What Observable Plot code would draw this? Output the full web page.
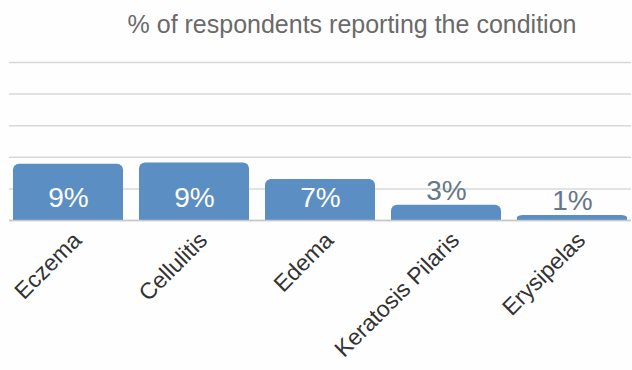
<!DOCTYPE html>
<html>
<head>
<meta charset="utf-8">
<script src="https://cdn.jsdelivr.net/npm/d3@7"></script>
<script src="https://cdn.jsdelivr.net/npm/@observablehq/plot@0.6"></script>
<style>
  html, body { margin: 0; padding: 0; background: #fefefe; }
  body { width: 632px; height: 370px; overflow: hidden; font-family: "Liberation Sans", Arial, sans-serif; }
  #title { height: 50px; box-sizing: border-box; padding-top: 11px; padding-left: 72px; text-align: center; font-size: 25px; color: #6a6a6a; line-height: 26px; }
</style>
</head>
<body>
<div id="title">% of respondents reporting the condition</div>
<div id="chart"></div>
<script>
const categories = ["Eczema", "Cellulitis", "Edema", "Keratosis Pilaris", "Erysipelas"];
const values = [8.9, 9.1, 6.5, 2.4, 0.8];
const labels = ["9%", "9%", "7%", "3%", "1%"];
const yTicks = [0, 5, 10, 15, 20, 25];

const data = categories.map((c, i) => ({category: c, value: values[i], label: labels[i]}));
const inside = data.filter(d => d.value >= 5);
const outside = data.filter(d => d.value < 5);

const barColor = "#5b8ec2";

const chart = Plot.plot({
  width: 632,
  height: 320,
  marginTop: 12,
  marginBottom: 150,
  marginLeft: 9,
  marginRight: 1,
  style: {background: "transparent", fontFamily: "'Liberation Sans', Arial, sans-serif"},
  x: {domain: categories, paddingInner: 0.125, paddingOuter: 0.03, label: null},
  y: {domain: [0, 25], label: null},
  marks: [
    Plot.gridY(yTicks, {stroke: "#d8d8d8", strokeOpacity: 1, strokeWidth: 1.5}),
    Plot.barY(data, {x: "category", y: "value", fill: barColor, rx: 6}),
    Plot.barY(data, {x: "category", y1: 0, y2: d => d.value / 2, fill: barColor}),
    Plot.ruleY([0], {stroke: "#c8c8c8", strokeWidth: 1.5}),
    Plot.text(inside, {x: "category", y: 0, text: "label", dy: -22, fill: "white", fontSize: 28}),
    Plot.text(outside, {x: "category", y: "value", text: "label", dy: -14, fill: "#667788", fontSize: 28}),
    Plot.axisX({tickRotate: -45, tickSize: 0, tickPadding: 10, dx: 9, dy: 6, fontSize: 23, fill: "#333", label: null}),
    Plot.axisY({ticks: [], label: null})
  ]
});
document.getElementById("chart").appendChild(chart);
</script>
</body>
</html>
